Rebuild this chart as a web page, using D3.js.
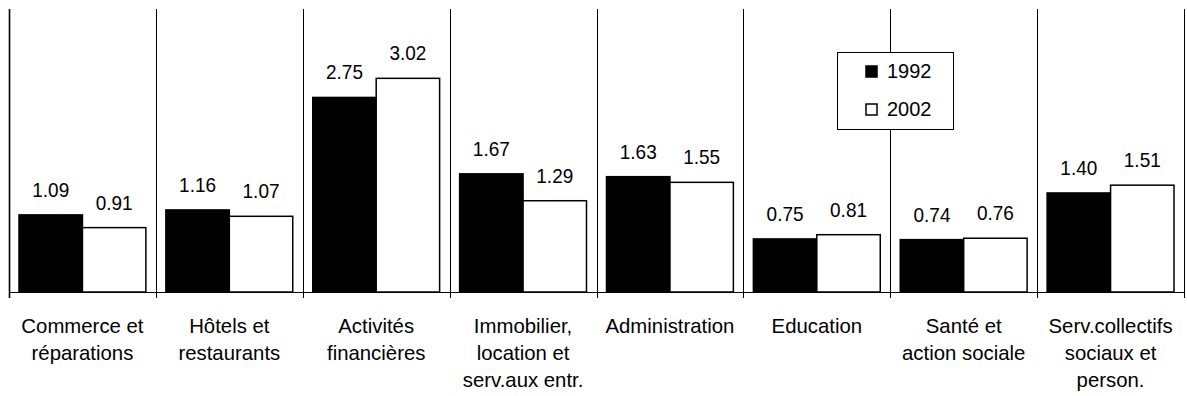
<!DOCTYPE html>
<html>
<head>
<meta charset="utf-8">
<script src="https://cdn.jsdelivr.net/npm/d3@7"></script>
<style>
  html, body { margin: 0; padding: 0; background: #fff; }
  svg { display: block; font-family: "Liberation Sans", Arial, sans-serif; }
</style>
</head>
<body>
<svg id="chart" width="1187" height="396"></svg>
<script>
// Sectors (multi-line labels) and values per year
const categories = [
  ["Commerce et", "réparations"],
  ["Hôtels et", "restaurants"],
  ["Activités", "financières"],
  ["Immobilier,", "location et", "serv.aux entr."],
  ["Administration"],
  ["Education"],
  ["Santé et", "action sociale"],
  ["Serv.collectifs", "sociaux et", "person."]
];
const years = ["1992", "2002"];
const values1992 = [1.09, 1.16, 2.75, 1.67, 1.63, 0.75, 0.74, 1.40];
const values2002 = [0.91, 1.07, 3.02, 1.29, 1.55, 0.81, 0.76, 1.51];
const yDomain = [0, 4];

const fills = { "1992": "#000000", "2002": "#ffffff" };

const svg = d3.select("#chart");
const plot = { left: 9, right: 1184, top: 9, bottom: 292 };

const idx = categories.map((d, i) => i);
const x0 = d3.scaleBand().domain(idx).range([plot.left, plot.right]).padding(0);
const x1 = d3.scaleBand().domain(years).range([10, x0.bandwidth() - 10]).padding(0);
const y = d3.scaleLinear().domain(yDomain).range([plot.bottom, plot.top]);

const rows = idx.map(i => ({ i, vals: [
  { year: "1992", v: values1992[i] },
  { year: "2002", v: values2002[i] }
]}));

// Category separators, running from the top of the plot to just under the baseline
const bounds = idx.map(i => x0(i)).concat([x0(idx.length - 1) + x0.bandwidth()]);
svg.append("g").selectAll("line").data(bounds).join("line")
  .attr("x1", d => Math.round(d) + 0.5).attr("x2", d => Math.round(d) + 0.5)
  .attr("y1", plot.top).attr("y2", plot.bottom + 6)
  .attr("stroke", "#000").attr("stroke-width", (d, k) => k === 0 ? 1.6 : 1);

// Baseline
svg.append("line")
  .attr("x1", plot.left).attr("x2", plot.right)
  .attr("y1", plot.bottom + 0.5).attr("y2", plot.bottom + 0.5)
  .attr("stroke", "#000").attr("stroke-width", 1);

// Bars
const groups = svg.append("g").selectAll("g").data(rows).join("g")
  .attr("transform", d => `translate(${x0(d.i)},0)`);

groups.selectAll("rect").data(d => d.vals).join("rect")
  .attr("x", d => x1(d.year))
  .attr("y", d => y(d.v))
  .attr("width", x1.bandwidth())
  .attr("height", d => y(0) - y(d.v))
  .attr("fill", d => fills[d.year])
  .attr("stroke", "#000")
  .attr("stroke-width", 1.5);

// Value labels
groups.selectAll("text").data(d => d.vals).join("text")
  .attr("text-anchor", "middle")
  .attr("font-size", 20)
  .attr("fill", "#000")
  .attr("transform", d => `translate(${x1(d.year) + x1.bandwidth() / 2},${y(d.v) - 18}) scale(0.95,1)`)
  .text(d => d.v.toFixed(2));

// Category labels under the axis
const catG = svg.append("g").selectAll("text").data(idx).join("text")
  .attr("text-anchor", "middle")
  .attr("font-size", 21)
  .attr("fill", "#000")
  .attr("transform", i => `translate(${x0(i) + x0.bandwidth() / 2},333) scale(0.97,1)`);
catG.selectAll("tspan").data(i => categories[i]).join("tspan")
  .attr("x", 0)
  .attr("y", (d, k) => k * 27)
  .text(d => d);

// Legend
const legend = svg.append("g").attr("transform", "translate(837.5,52.5)");
legend.append("rect")
  .attr("width", 116).attr("height", 77)
  .attr("fill", "#fff").attr("stroke", "#000").attr("stroke-width", 1);
const items = legend.selectAll("g").data(years).join("g")
  .attr("transform", (d, k) => `translate(0,${k * 38})`);
items.append("rect")
  .attr("x", 28.5).attr("y", 13.5).attr("width", 11).attr("height", 11)
  .attr("fill", d => fills[d]).attr("stroke", "#000").attr("stroke-width", 1.5);
items.append("text")
  .attr("x", 49.5).attr("y", 25)
  .attr("font-size", 20)
  .attr("fill", "#000")
  .text(d => d);
</script>
</body>
</html>
